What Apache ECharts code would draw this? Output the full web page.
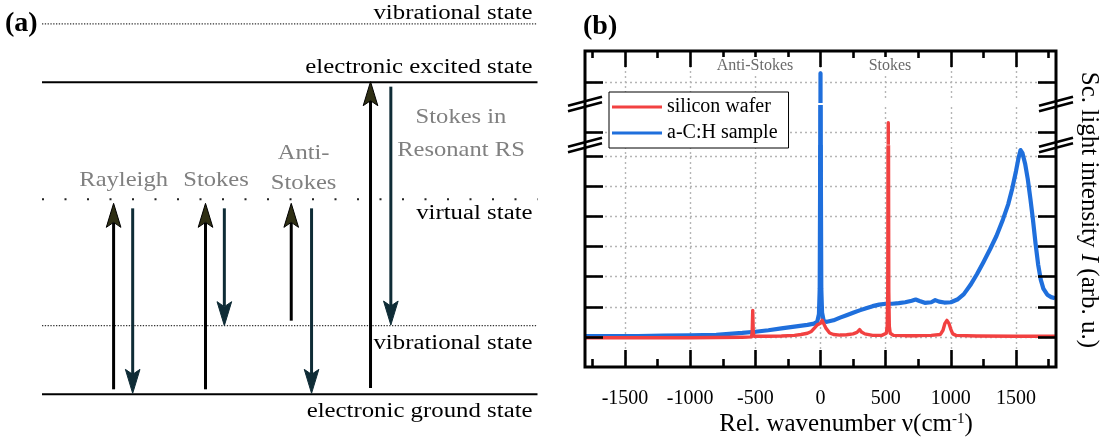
<!DOCTYPE html>
<html>
<head>
<meta charset="utf-8">
<title>Raman scattering: scheme and spectra</title>
<script src="https://cdn.jsdelivr.net/npm/echarts@6.0.0/dist/echarts.min.js"></script>
<style>
  html, body { margin: 0; padding: 0; background: #fff; }
  #chart { width: 1107px; height: 441px; }
</style>
</head>
<body>
<div id="chart"></div>
<script>
// ---------------- (a) scattering scheme ----------------
// Energy levels in diagram units (electronic ground state = 0)
const levelNames  = ['electronic ground state', 'vibrational state', 'virtual state', 'electronic excited state', 'vibrational state'];
const levelEnergy = [0, 2.2, 6.25, 10, 11.87];
const levelKind   = ['solid', 'dotted', 'sparse', 'solid', 'dotted'];

// Transitions: column on the scheme, start energy, end energy (arrow tip)
const arrowColumn = [14.45, 18.3, 33.0, 36.8, 50.3, 54.4, 66.3, 70.4];
const arrowStart  = [0.16, 5.96, 0.16, 5.96, 2.36, 5.96, 0.20, 9.86];
const arrowEnd    = [6.12, 0.03, 6.12, 2.20, 6.12, 0.03, 10.02, 2.22];

const processNames = ['Rayleigh', 'Stokes', 'Anti-\nStokes', 'Stokes in\nResonant RS'];

// ---------------- (b) Raman spectra ----------------
const wavenumberTicks      = [-1500, -1000, -500, 0, 500, 1000, 1500];
const wavenumberMinorTicks = [-1750, -1250, -750, -250, 250, 750, 1250, 1750];
const seriesNames  = ['silicon wafer', 'a-C:H sample'];
const regionLabels = ['Anti-Stokes', 'Stokes'];

// silicon wafer
const siliconX = [-1800, -1400, -1000, -800, -600, -530, -524, -520, -516, -510,
  -400, -300, -200, -150, -100, -70, -45, -25, -12, 0,
  12, 22, 40, 70, 100, 150, 200, 250, 280, 300,
  315, 340, 400, 470, 505, 512, 516, 520, 524, 528,
  535, 560, 650, 750, 850, 920, 940, 955, 970, 985,
  1000, 1015, 1040, 1200, 1500, 1800];
const siliconY = [-0.03, -0.03, -0.03, -0.02, -0.01, 0.0, 0.15, 0.88, 0.15, 0.02,
  0.02, 0.03, 0.05, 0.08, 0.12, 0.18, 0.30, 0.40, 0.45, 0.45,
  0.55, 0.50, 0.30, 0.13, 0.08, 0.06, 0.07, 0.10, 0.15, 0.24,
  0.16, 0.10, 0.05, 0.05, 0.12, 0.35, 1.5, 10.31, 1.5, 0.35,
  0.12, 0.05, 0.04, 0.04, 0.05, 0.08, 0.22, 0.45, 0.55, 0.45,
  0.25, 0.10, 0.05, 0.03, 0.02, 0.02];

// a-C:H sample
const sampleX = [-1800, -1600, -1400, -1200, -1000, -900, -800, -700, -600, -500,
  -400, -300, -200, -100, -50, -25, -12, -6, -3, 0,
  3, 6, 12, 25, 50, 100, 150, 200, 250, 300,
  350, 400, 450, 500, 550, 600, 650, 700, 730, 760,
  800, 850, 880, 910, 950, 1000, 1050, 1100, 1150, 1200,
  1250, 1300, 1350, 1400, 1440, 1470, 1500, 1520, 1535, 1550,
  1570, 1590, 1610, 1630, 1650, 1670, 1690, 1710, 1740, 1770, 1800];
const sampleY = [0.03, 0.03, 0.03, 0.04, 0.05, 0.06, 0.07, 0.10, 0.13, 0.17,
  0.22, 0.28, 0.34, 0.40, 0.44, 0.50, 0.75, 1.6, 5.0, 20.29,
  5.0, 1.6, 0.8, 0.52, 0.50, 0.55, 0.64, 0.72, 0.80, 0.88,
  0.95, 1.02, 1.07, 1.10, 1.10, 1.12, 1.15, 1.20, 1.24, 1.19,
  1.13, 1.15, 1.22, 1.17, 1.14, 1.15, 1.24, 1.42, 1.72, 2.08,
  2.48, 2.90, 3.35, 3.90, 4.40, 4.90, 5.50, 5.95, 6.20, 6.10,
  5.75, 5.25, 4.60, 3.90, 3.10, 2.40, 1.90, 1.60, 1.40, 1.32, 1.28];

// intensity axis is broken into three bands; gridline values per band
const intensityTicks = [[0, 1, 2, 3, 4, 5, 6], [10], [20]];

// ---------------- layout & style ----------------
const FONT = 'Liberation Serif';
const BLUE = '#1f6fdc';
const RED = '#f24141';
const FRAME = { left: 585, right: 1056, top: 51, bottom: 367 };
const WN_RANGE = [-1807, 1807];
// pixel bands (bottom to top) and the pixel row of one reference value in each
const BANDS = [
  { top: 147, bottom: 367, anchorValue: 0,  anchorPx: 336.88 },
  { top: 107, bottom: 143, anchorValue: 10, anchorPx: 132 },
  { top: 51,  bottom: 101, anchorValue: 20, anchorPx: 82 }
];
const PX_PER_UNIT = 30.12;

const SCHEME = { left: 42, top: 19.9, width: 495.5, height: 374.4, xMax: 100, yMax: 12 };
const levelLabelDy = [16.9, 17.5, 14.6, -15.1, -10.8];
const processLabelAt = [[16.47, 6.84], [35.12, 6.84], [52.8, 7.25], [84.56, 8.33]];
const processLineHeight = [30, 30, 30, 33];

const gridLineStyle = { color: '#b5b5b5', width: 1.4, type: [2, 3] };

function bareAxis(gridIndex, position, min, max) {
  return {
    type: 'value', gridIndex, position, min, max, z: 0,
    axisLine: { show: false, onZero: false },
    axisTick: { show: false },
    axisLabel: { show: false },
    splitLine: { show: false }
  };
}
function tickAxis(gridIndex, position, min, max, values, length) {
  const a = bareAxis(gridIndex, position, min, max);
  a.z = 6;
  a.axisTick = { show: true, inside: true, length, customValues: values,
                 lineStyle: { color: '#000', width: 2.6 } };
  return a;
}
function gridAxis(gridIndex, position, min, max, values) {
  const a = bareAxis(gridIndex, position, min, max);
  a.axisTick = { show: false, customValues: values };
  a.splitLine = { show: true, customValues: values, lineStyle: gridLineStyle };
  return a;
}

const grids = [], xAxes = [], yAxes = [], series = [];

BANDS.forEach((band, b) => {
  grids.push({ left: FRAME.left, width: FRAME.right - FRAME.left, top: band.top,
               height: band.bottom - band.top, containLabel: false, outerBoundsMode: 'none' });
  const yMin = band.anchorValue - (band.bottom - band.anchorPx) / PX_PER_UNIT;
  const yMax = band.anchorValue + (band.anchorPx - band.top) / PX_PER_UNIT;

  // wavenumber axis carrying data and vertical gridlines
  const xData = xAxes.length;
  const xa = gridAxis(b, 'bottom', WN_RANGE[0], WN_RANGE[1], wavenumberTicks);
  if (b === 0) {
    xa.axisLabel = { show: true, customValues: wavenumberTicks, margin: 22,
                     formatter: v => String(v), fontSize: 20, fontFamily: FONT, color: '#000' };
  }
  xAxes.push(xa);
  if (b === 0) {
    xAxes.push(tickAxis(b, 'bottom', WN_RANGE[0], WN_RANGE[1], wavenumberTicks, 17));
    xAxes.push(tickAxis(b, 'bottom', WN_RANGE[0], WN_RANGE[1], wavenumberMinorTicks, 8));
  }
  if (b === 2) {
    xAxes.push(tickAxis(b, 'top', WN_RANGE[0], WN_RANGE[1], wavenumberTicks, 16));
    xAxes.push(tickAxis(b, 'top', WN_RANGE[0], WN_RANGE[1], wavenumberMinorTicks, 7));
  }

  const yData = yAxes.length;
  yAxes.push(gridAxis(b, 'left', yMin, yMax, intensityTicks[b]));
  yAxes.push(tickAxis(b, 'left', yMin, yMax, intensityTicks[b], 18));
  yAxes.push(tickAxis(b, 'right', yMin, yMax, intensityTicks[b], 18));

  series.push({
    type: 'line', name: seriesNames[1], xAxisIndex: xData, yAxisIndex: yData,
    data: sampleX.map((x, i) => [x, sampleY[i]]),
    symbol: 'none', clip: true, silent: true, z: 2,
    lineStyle: { color: BLUE, width: 4.2, join: 'round' }, itemStyle: { color: BLUE },
    emphasis: { disabled: true }
  });
  series.push({
    type: 'line', name: seriesNames[0], xAxisIndex: xData, yAxisIndex: yData,
    data: siliconX.map((x, i) => [x, siliconY[i]]),
    symbol: 'none', clip: true, silent: true, z: 2,
    lineStyle: { color: RED, width: 3.4, join: 'round' }, itemStyle: { color: RED },
    emphasis: { disabled: true }
  });
});

// ---------- scheme grid ----------
const schemeGrid = grids.length;
grids.push({ left: SCHEME.left, top: SCHEME.top, width: SCHEME.width, height: SCHEME.height,
             containLabel: false, outerBoundsMode: 'none' });
const schemeX = xAxes.length, schemeY = yAxes.length;
xAxes.push(Object.assign(bareAxis(schemeGrid, 'bottom', 0, SCHEME.xMax), { show: false }));
yAxes.push(Object.assign(bareAxis(schemeGrid, 'left', 0, SCHEME.yMax), { show: false }));

const levelStyles = {
  solid:  { stroke: '#000', lineWidth: 2 },
  dotted: { stroke: '#333', lineWidth: 1.3, lineDash: [1.3, 1.5] },
  sparse: { stroke: '#222', lineWidth: 2, lineDash: [2, 20.5] }
};

series.push({
  type: 'custom', coordinateSystem: 'cartesian2d', xAxisIndex: schemeX, yAxisIndex: schemeY,
  silent: true, z: 3,
  data: levelEnergy.map((e, i) => [0, e, i]),
  renderItem(params, api) {
    const e = api.value(1), i = api.value(2);
    const a = api.coord([0, e]), b = api.coord([SCHEME.xMax, e]), lab = api.coord([99, e]);
    return { type: 'group', children: [
      { type: 'line', shape: { x1: a[0], y1: a[1], x2: b[0], y2: b[1] }, style: levelStyles[levelKind[i]] },
      { type: 'text', x: lab[0], y: lab[1] + levelLabelDy[i], scaleX: 1.21,
        style: { text: levelNames[i], fontSize: 20.5, fontFamily: FONT, fill: '#000',
                 align: 'right', verticalAlign: 'middle' } }
    ] };
  }
});

series.push({
  type: 'custom', coordinateSystem: 'cartesian2d', xAxisIndex: schemeX, yAxisIndex: schemeY,
  silent: true, z: 4,
  data: arrowColumn.map((x, i) => [x, arrowStart[i], arrowEnd[i]]),
  renderItem(params, api) {
    const x = api.value(0);
    const s = api.coord([x, api.value(1)]), t = api.coord([x, api.value(2)]);
    const dir = t[1] > s[1] ? 1 : -1;
    const up = dir < 0;
    const L = 24, W = 7.3, notch = 5;
    const baseY = t[1] - dir * L, notchY = t[1] - dir * (L - notch);
    const lineColor = up ? '#000' : '#0f2c36';
    return { type: 'group', children: [
      { type: 'line', shape: { x1: s[0], y1: s[1], x2: t[0], y2: notchY },
        style: { stroke: lineColor, lineWidth: 3 } },
      { type: 'polygon', shape: { points: [[t[0], t[1]], [t[0] + W, baseY], [t[0], notchY], [t[0] - W, baseY]] },
        style: { fill: up ? '#2f2f14' : '#0f2c36', stroke: up ? '#000' : '#0f2c36', lineWidth: 1 } }
    ] };
  }
});

series.push({
  type: 'custom', coordinateSystem: 'cartesian2d', xAxisIndex: schemeX, yAxisIndex: schemeY,
  silent: true, z: 4,
  data: processLabelAt.map((p, i) => [p[0], p[1], i]),
  renderItem(params, api) {
    const i = api.value(2);
    const p = api.coord([api.value(0), api.value(1)]);
    return { type: 'text', x: p[0], y: p[1], scaleX: 1.17,
      style: { text: processNames[i], fontSize: 21, fontFamily: FONT, fill: '#808080',
               lineHeight: processLineHeight[i], align: 'center', verticalAlign: 'middle' } };
  }
});

// ---------- decorations: frame, axis breaks, titles ----------
function breakMark(x, y) {
  const d = 2.7, hw = 17, rise = 4.5;
  const k = rise / hw;
  return {
    type: 'group', x, y, z: 60, silent: true,
    children: [
      { type: 'polygon', shape: { points: [[-5, 5 * k - d + 1.3], [5, -5 * k - d + 1.3],
                                           [5, -5 * k + d - 1.3], [-5, 5 * k + d - 1.3]] },
        style: { fill: '#fff' } },
      { type: 'line', shape: { x1: -hw, y1: rise - d, x2: hw, y2: -rise - d }, style: { stroke: '#000', lineWidth: 2.6 } },
      { type: 'line', shape: { x1: -hw, y1: rise + d, x2: hw, y2: -rise + d }, style: { stroke: '#000', lineWidth: 2.6 } }
    ]
  };
}
const breakRows = [(BANDS[0].top + BANDS[1].bottom) / 2, (BANDS[1].top + BANDS[2].bottom) / 2];

const graphics = [
  { type: 'rect', z: 50, silent: true,
    shape: { x: FRAME.left, y: FRAME.top, width: FRAME.right - FRAME.left, height: FRAME.bottom - FRAME.top },
    style: { fill: 'none', stroke: '#000', lineWidth: 3 } },
  { type: 'text', x: 5, y: 24, z: 60,
    style: { text: '(a)', fontSize: 28, fontWeight: 'bold', fontFamily: FONT, fill: '#000', align: 'left', verticalAlign: 'middle' } },
  { type: 'text', x: 583, y: 27, z: 60,
    style: { text: '(b)', fontSize: 28, fontWeight: 'bold', fontFamily: FONT, fill: '#000', align: 'left', verticalAlign: 'middle' } },
  { type: 'text', x: 755, y: 66, z: 60,
    style: { text: regionLabels[0], fontSize: 16, fontFamily: FONT, fill: '#6a6a6a', align: 'center', verticalAlign: 'middle',
             backgroundColor: '#fff', padding: [1, 2] } },
  { type: 'text', x: 890, y: 66, z: 60,
    style: { text: regionLabels[1], fontSize: 16, fontFamily: FONT, fill: '#6a6a6a', align: 'center', verticalAlign: 'middle',
             backgroundColor: '#fff', padding: [1, 2] } },
  { type: 'text', x: 846, y: 424, z: 60,
    style: { text: 'Rel. wavenumber \u03bd(cm{sup|-1})', fontSize: 25, fontFamily: FONT, fill: '#000',
             align: 'center', verticalAlign: 'middle',
             rich: { sup: { fontSize: 15, fontFamily: FONT, verticalAlign: 'top', fill: '#000' } } } },
  { type: 'text', x: 1089, y: 210, rotation: -Math.PI / 2, z: 60,
    style: { text: 'Sc. light intensity {i|I} (arb. u.)', fontSize: 25, fontFamily: FONT, fill: '#000',
             align: 'center', verticalAlign: 'middle',
             rich: { i: { fontSize: 25, fontFamily: FONT, fontStyle: 'italic', fill: '#000' } } } }
];
breakRows.forEach(y => {
  graphics.push(breakMark(FRAME.left, y));
  graphics.push(breakMark(FRAME.right, y));
});

const chart = echarts.init(document.getElementById('chart'), null, { renderer: 'canvas' });
chart.setOption({
  animation: false,
  backgroundColor: '#fff',
  grid: grids,
  xAxis: xAxes,
  yAxis: yAxes,
  legend: {
    data: seriesNames, orient: 'vertical', left: 609, top: 92,
    icon: 'rect', itemWidth: 50, itemHeight: 3, itemGap: 6,
    padding: [5, 11, 5, 3], borderColor: '#000', borderWidth: 1, backgroundColor: '#fff',
    selectedMode: false, z: 20,
    textStyle: { fontSize: 20, fontFamily: FONT, color: '#000' }
  },
  series,
  graphic: { elements: graphics }
});
</script>
</body>
</html>
